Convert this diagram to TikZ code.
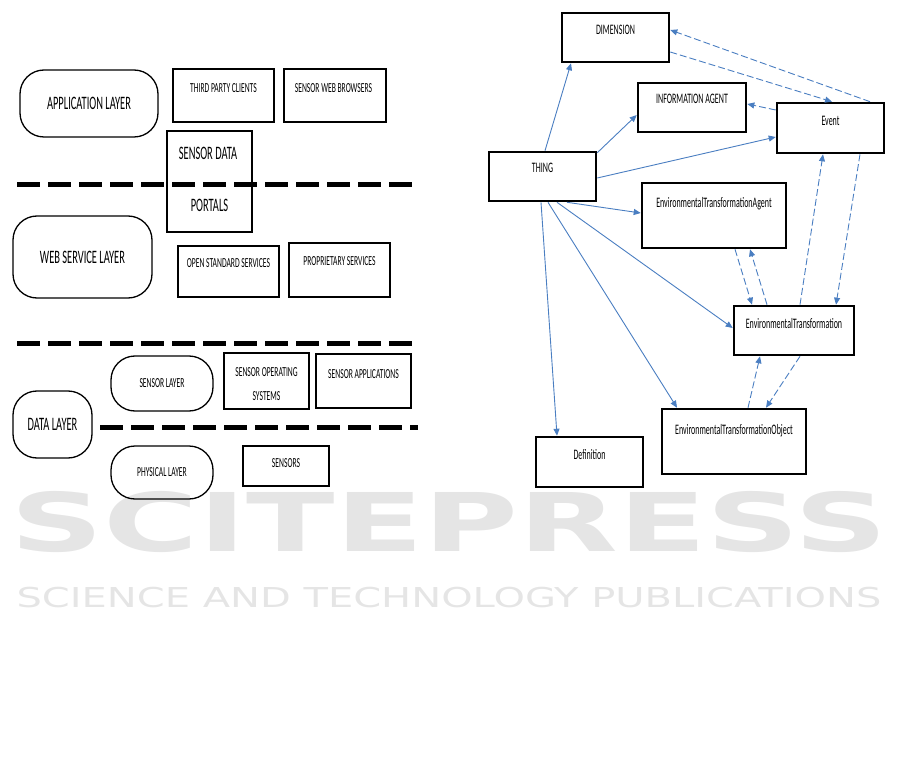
\documentclass[tikz,border=0pt]{standalone}
\usepackage{fontspec}
\setmainfont{Carlito}[FakeStretch=0.55]
\newfontfamily\wmfont{DejaVu Sans}[FakeStretch=1.46]
\newfontfamily\wmbigfont{DejaVu Sans}[FakeStretch=1.6]
\usetikzlibrary{arrows.meta,calc}

\definecolor{linkblue}{RGB}{74,126,193}
\newcommand\lblsmall{\fontsize{13.8}{15}\selectfont}
\newcommand\lblbig{\fontsize{19}{21}\selectfont}
\newcommand\lblobj{\fontsize{14.5}{16}\selectfont}

\tikzset{
  layer/.style={draw, line width=1.3pt, rounded corners=24pt, inner sep=0pt},
  box/.style={draw, line width=2.2pt, inner sep=0pt},
  obj/.style={draw, line width=2.6pt, inner sep=0pt},
  txt/.style={inner sep=0pt, anchor=base, font=\lblsmall},
  bigtxt/.style={inner sep=0pt, anchor=base, font=\lblbig},
  objtxt/.style={inner sep=0pt, anchor=base, font=\lblobj},
  isa/.style={draw=linkblue, line width=0.9pt, -{Triangle[length=7pt,width=6pt]}},
  rel/.style={isa, dash pattern=on 7pt off 3pt},
  sepline/.style={line width=5pt, dash pattern=on 23pt off 8pt},
  sepshadow/.style={sepline, black!22, line width=4pt, yshift=-5pt},
}

\begin{document}
\begin{tikzpicture}[x=1pt, y=-1pt]
  \useasboundingbox (0,0) rectangle (901,783);

  % watermark
  \node[inner sep=0pt, text=black!10, font=\wmbigfont\bfseries\fontsize{81}{81}\selectfont] (wm1) at (449,522) {SCITEPRESS};
  \node[inner sep=0pt, text=black!10, font=\wmfont\fontsize{27.4}{28}\selectfont] (wm2) at (449,598) {SCIENCE AND TECHNOLOGY PUBLICATIONS};

  % layered architecture
  \node[layer, font=\lblbig, minimum width=138pt, minimum height=67pt] (app) at (89,103.5) {APPLICATION LAYER};
  \node[box, minimum width=101pt, minimum height=53pt] (tpc) at (223.5,95.5) {};
  \node[box, minimum width=102pt, minimum height=53pt] (swb) at (335,95.5) {};
  \node[box, minimum width=85pt, minimum height=101pt] (sdp) at (209.5,181.5) {};
  \node[txt] (tpc-l) at ($(tpc.north)+(0,24.4)$) {THIRD PARTY CLIENTS};
  \node[txt] (swb-l) at ($(swb.north)+(-1.5,24.4)$) {SENSOR WEB BROWSERS};
  \node[bigtxt] (sdp-l1) at ($(sdp.north)+(-1.5,30)$) {SENSOR DATA};
  \node[bigtxt] (sdp-l2) at ($(sdp.north)+(0,82)$) {PORTALS};

  \node[layer, font=\lblbig, minimum width=139pt, minimum height=82pt] (ws) at (82.5,257) {WEB SERVICE LAYER};
  \node[box, minimum width=101pt, minimum height=51pt] (oss) at (228.5,271.5) {};
  \node[box, minimum width=101pt, minimum height=54pt] (prs) at (339.5,270) {};
  \node[txt] (oss-l) at ($(oss.north)+(0,22.4)$) {OPEN STANDARD SERVICES};
  \node[txt] (prs-l) at ($(prs.north)+(0,23.4)$) {PROPRIETARY SERVICES};

  \node[layer, font=\lblbig, minimum width=79pt, minimum height=67pt] (dl) at (52.5,424.5) {DATA LAYER};
  \node[layer, font=\lblsmall, minimum width=102pt, minimum height=55pt] (sl) at (162,383.5) {SENSOR LAYER};
  \node[box, minimum width=85pt, minimum height=56pt] (sos) at (266.5,381) {};
  \node[box, minimum width=95pt, minimum height=54pt] (sa) at (363.5,381) {};
  \node[inner sep=0pt, font=\fontsize{13.8}{24}\selectfont, align=center] (sos-l) at ($(sos.north)+(0,32)$) {SENSOR OPERATING\\SYSTEMS};
  \node[txt] (sa-l) at ($(sa.north)+(0,25.4)$) {SENSOR APPLICATIONS};
  \node[layer, font=\lblsmall, minimum width=102pt, minimum height=53pt] (pl) at (162,472.5) {PHYSICAL LAYER};
  \node[box, minimum width=86pt, minimum height=40pt] (sen) at (286,466) {};
  \node[txt] (sen-l) at ($(sen.north)+(0,22.4)$) {SENSORS};

  % layer separators
  \coordinate (s1a) at (17,185);  \coordinate (s1b) at (413,185);
  \coordinate (s2a) at (17,343);  \coordinate (s2b) at (413,343);
  \coordinate (s3a) at (100,427); \coordinate (s3b) at (418,427);
  \foreach \a/\b in {s1a/s1b, s2a/s2b, s3a/s3b} {
    \draw[sepshadow] (\a) -- (\b);
    \draw[sepline] (\a) -- (\b);
  }

  % ontology
  \node[obj, minimum width=107pt, minimum height=49pt] (dim) at (615.5,37.5) {};
  \node[obj, minimum width=108pt, minimum height=49pt] (ia) at (692,107.5) {};
  \node[obj, minimum width=107pt, minimum height=50pt] (ev) at (830.5,128) {};
  \node[obj, minimum width=107pt, minimum height=49pt] (th) at (542.5,176.5) {};
  \node[obj, minimum width=144pt, minimum height=65pt] (eta) at (714,215.5) {};
  \node[obj, minimum width=120pt, minimum height=49pt] (et) at (794,330.5) {};
  \node[obj, minimum width=144pt, minimum height=65pt] (eto) at (734,441.5) {};
  \node[obj, minimum width=107pt, minimum height=50pt] (def) at (589.5,462) {};
  \node[objtxt] (dim-l) at ($(dim.north)+(0,22.7)$) {DIMENSION};
  \node[objtxt] (ia-l) at ($(ia.north)+(0,21.7)$) {INFORMATION AGENT};
  \node[objtxt] (ev-l) at ($(ev.north)+(0,23.7)$) {Event};
  \node[objtxt] (th-l) at ($(th.north)+(0,21.7)$) {THING};
  \node[objtxt] (eta-l) at ($(eta.north)+(0,26)$) {EnvironmentalTransformationAgent};
  \node[objtxt] (et-l) at ($(et.north)+(0,23.7)$) {EnvironmentalTransformation};
  \node[objtxt] (eto-l) at ($(eto.north)+(0,26.7)$) {EnvironmentalTransformationObject};
  \node[objtxt] (def-l) at ($(def.north)+(0,23.7)$) {Definition};

  % THING links
  \draw[isa] ([xshift=2.5pt]th.north) -- ([xshift=-44.5pt]dim.south);
  \draw[isa] ([yshift=-2pt]th.north east) -- ([yshift=-7.5pt]ia.west);
  \draw[isa] ([yshift=-1.5pt]th.east) -- ([yshift=-9pt]ev.west);
  \draw[isa] ([xshift=24.5pt]th.south) -- ([yshift=2.5pt]eta.west);
  \draw[isa] ([xshift=14.5pt]th.south) -- ([yshift=2.5pt]et.west);
  \draw[isa] ([xshift=5.5pt]th.south) -- ([xshift=-57pt]eto.north);
  \draw[isa] ([xshift=-1.5pt]th.south) -- ([xshift=-32.5pt]def.north);

  % other relations
  \draw[rel] ([xshift=39.5pt]ev.north) -- ([yshift=7.5pt]dim.east);
  \draw[rel] ([yshift=-14.5pt]dim.east) -- ([xshift=1.5pt]ev.north);
  \draw[rel] ([yshift=18pt]ev.west) -- ([yshift=3.5pt]ia.east);
  \draw[rel] ([xshift=6pt]et.north) -- ([xshift=-7.5pt]ev.south);
  \draw[rel] ([xshift=29.5pt]ev.south) -- ([xshift=42pt]et.north);
  \draw[rel] ([xshift=21pt]eta.south) -- ([xshift=-42pt]et.north);
  \draw[rel] ([xshift=-27pt]et.north) -- ([xshift=36pt]eta.south);
  \draw[rel] ([xshift=14pt]eto.north) -- ([xshift=-34pt]et.south);
  \draw[rel] ([xshift=6pt]et.south) -- ([xshift=32pt]eto.north);
\end{tikzpicture}
\end{document}
